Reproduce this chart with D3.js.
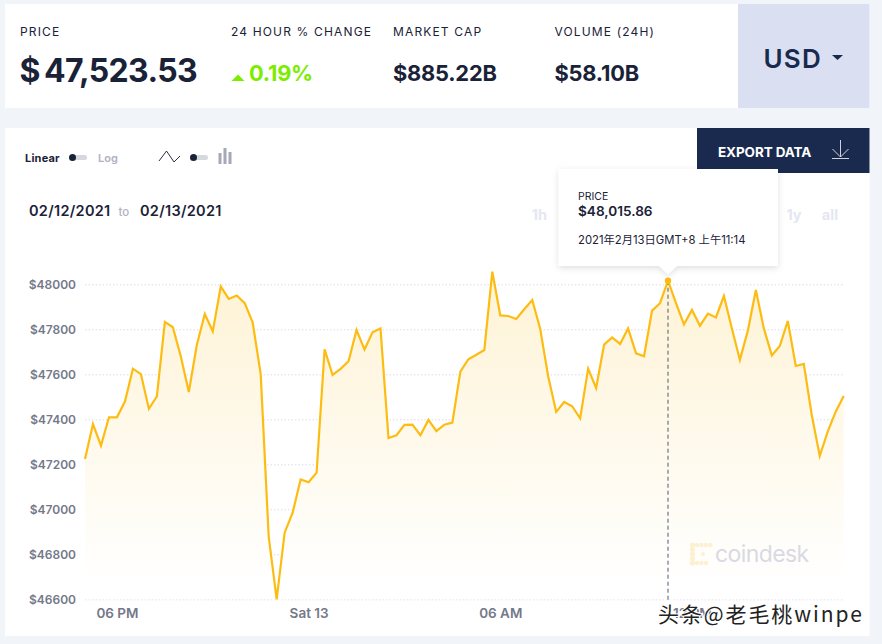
<!DOCTYPE html>
<html>
<head>
<meta charset="utf-8">
<script src="https://cdn.jsdelivr.net/npm/d3@7"></script>
<style>
  html, body { margin: 0; padding: 0; background: #f1f4f9; }
  svg { display: block; font-family: Inter, "Noto Sans", sans-serif; }
  .axis path { display: none; }
  .grid line { stroke: #dcdcec; stroke-dasharray: 1.5 2; }
  .axis text { fill: #747889; font-size: 12px; font-weight: 600; font-family: Inter, sans-serif; }
</style>
</head>
<body>
<svg id="chart" width="882" height="644"></svg>
<script>
const prices = [
  47224, 47379, 47283, 47409, 47409, 47479, 47625, 47601, 47447, 47502, 47833, 47809,
  47679, 47521, 47730, 47868, 47791, 47990, 47935, 47950, 47916, 47830, 47601, 46879,
  46600, 46896, 46985, 47133, 47120, 47163, 47711, 47597, 47624, 47658, 47797, 47710,
  47787, 47804, 47317, 47329, 47375, 47376, 47329, 47397, 47347, 47376, 47385, 47612,
  47667, 47687, 47708, 48056, 47862, 47859, 47846, 47889, 47930, 47801, 47590, 47433,
  47477, 47458, 47404, 47625, 47539, 47732, 47764, 47735, 47804, 47693, 47680, 47883,
  47916, 48015.86, 47916, 47822, 47886, 47816, 47870, 47853, 47948, 47804, 47664, 47794,
  47975, 47804, 47684, 47726, 47837, 47637, 47646, 47419, 47237, 47345, 47434, 47504
];
const startTime = Date.UTC(2021, 1, 12, 17, 0);
const stepMs = 15 * 60 * 1000;
const times = prices.map((_, i) => new Date(startTime + i * stepMs));

const yTicks = [46600, 46800, 47000, 47200, 47400, 47600, 47800, 48000];
const xTicks = [
  new Date(Date.UTC(2021, 1, 12, 18)),
  new Date(Date.UTC(2021, 1, 13, 0)),
  new Date(Date.UTC(2021, 1, 13, 6)),
  new Date(Date.UTC(2021, 1, 13, 12))
];
const xTickLabels = ["06 PM", "Sat 13", "06 AM", "12 PM"];
const hoverIndex = 73;

const stats = [
  { label: "24 HOUR % CHANGE", x: 231 },
  { label: "MARKET CAP", value: "$885.22B", x: 393 },
  { label: "VOLUME (24H)", value: "$58.10B", x: 554.5 }
];
const ranges = [{ t: "1h", x: 539.5 }, { t: "1y", x: 794 }, { t: "all", x: 830 }];

const navy = "#1a2238";
const svg = d3.select("#chart");

function txt(parent, x, y, s, size, weight, fill, extra) {
  const t = parent.append("text").attr("x", x).attr("y", y).text(s)
    .attr("font-size", size).attr("font-weight", weight).attr("fill", fill);
  if (extra) Object.entries(extra).forEach(([k, v]) => t.attr(k, v));
  return t;
}

// top card
svg.append("rect").attr("x", 5).attr("y", 4).attr("width", 864.5).attr("height", 104).attr("fill", "#fff");
svg.append("rect").attr("x", 738).attr("y", 4).attr("width", 131.5).attr("height", 104).attr("fill", "#dae0f2");
txt(svg, 20, 36, "PRICE", 12, 400, navy, { "letter-spacing": 1.15 });
txt(svg, 19.5, 82, "$", 32, 700, navy);
txt(svg, 44, 82, "47,523.53", 32, 700, navy, { "letter-spacing": -0.65 });
stats.forEach(d => {
  txt(svg, d.x, 36, d.label, 12, 400, navy, { "letter-spacing": 1.15 });
  if (d.value) txt(svg, d.x, 81, d.value, 21.8, 700, navy, { "letter-spacing": -0.2 });
});
svg.append("path").attr("d", "M231.5 81 L238 74.5 L244.5 81 Z").attr("fill", "#7ced00");
txt(svg, 249, 81, "0.19%", 21.8, 700, "#7ced00", { "letter-spacing": -0.2 });
txt(svg, 763.5, 68, "USD", 26, 600, "#1a2a4e", { "letter-spacing": 1.2 });
svg.append("path").attr("d", "M832 55 L843 55 L837.5 60 Z").attr("fill", "#1a2a4e");

// chart card
svg.append("rect").attr("x", 5).attr("y", 128).attr("width", 864.5).attr("height", 508).attr("fill", "#fff");
svg.append("rect").attr("x", 697).attr("y", 128).attr("width", 172.5).attr("height", 45).attr("fill", "#1a2a4e");
txt(svg, 718, 157, "EXPORT DATA", 13.5, 700, "#fff", { "letter-spacing": -0.1 });
svg.append("path")
  .attr("d", "M840.5 140 V157 M832.5 149 L840.5 157 L848.5 149 M832 158.5 H849")
  .attr("fill", "none").attr("stroke", "#cfd3de").attr("stroke-width", 1);

// scale toggles
txt(svg, 25, 162, "Linear", 11, 700, navy, { "letter-spacing": 0.2 });
txt(svg, 98, 162, "Log", 11, 600, "#b0b3bf");
[69, 190].forEach(x => {
  svg.append("rect").attr("x", x).attr("y", 155).attr("width", 18).attr("height", 5).attr("rx", 2.5).attr("fill", "#d6d8e0");
  svg.append("circle").attr("cx", x + 3.5).attr("cy", 157.5).attr("r", 3.5).attr("fill", navy);
});
svg.append("path").attr("d", "M159 161 L166.5 151 L174 162 L180 156").attr("fill", "none").attr("stroke", "#2a3042");
[[218.5, 153, 11], [223.5, 148, 16], [228.5, 152, 12]].forEach(b => {
  svg.append("rect").attr("x", b[0]).attr("y", b[1]).attr("width", 3).attr("height", b[2]).attr("fill", "#a5a8b6");
});

// date range
txt(svg, 29, 216, "02/12/2021", 14.5, 600, navy, { "letter-spacing": 0.3 });
txt(svg, 118.5, 216, "to", 11.5, 500, "#b0b3bf");
txt(svg, 140, 216, "02/13/2021", 14.5, 600, navy, { "letter-spacing": 0.3 });
ranges.forEach(r => txt(svg, r.x, 220, r.t, 14.5, 700, "#e4e7f1", { "text-anchor": "middle" }));

// scales
const x = d3.scaleUtc().domain([times[0], times[times.length - 1]]).range([85, 843.7]);
const y = d3.scaleLinear().domain([46600, 48000]).range([599.3, 284.3]);

const defs = svg.append("defs");
const grad = defs.append("linearGradient").attr("id", "fade")
  .attr("gradientUnits", "userSpaceOnUse").attr("x1", 0).attr("x2", 0).attr("y1", 280).attr("y2", 585);
grad.append("stop").attr("offset", 0).attr("stop-color", "#fef3d6");
grad.append("stop").attr("offset", 1).attr("stop-color", "#ffffff");

// grid + y axis
svg.append("g").attr("class", "axis grid").attr("transform", "translate(85,0)")
  .call(d3.axisLeft(y).tickValues(yTicks).tickSize(-759).tickPadding(9).tickFormat(d => "$" + d));

// area + line
const area = d3.area().x((d, i) => x(times[i])).y0(y(46600)).y1(d => y(d));
const line = d3.line().x((d, i) => x(times[i])).y(d => y(d));
svg.append("path").datum(prices).attr("d", area).attr("fill", "url(#fade)");
svg.append("path").datum(prices).attr("d", line).attr("fill", "none")
  .attr("stroke", "#fdbc11").attr("stroke-width", 2.2).attr("stroke-linejoin", "miter");

// x axis
svg.append("g").attr("class", "axis").attr("transform", "translate(0,599.3)")
  .call(d3.axisBottom(x).tickValues(xTicks).tickSize(0).tickPadding(9)
    .tickFormat((d, i) => xTickLabels[i]))
  .call(g => g.selectAll("text").style("font-size", "13.5px"));

// hover marker
const hx = x(times[hoverIndex]), hy = y(prices[hoverIndex]);
svg.append("line").attr("x1", hx).attr("x2", hx).attr("y1", hy).attr("y2", 601)
  .attr("stroke", "#4f586d").attr("stroke-width", 1).attr("stroke-dasharray", "4 3");
svg.append("circle").attr("cx", hx).attr("cy", hy).attr("r", 3.2).attr("fill", "#fdbc11");

// tooltip
const shadow = defs.append("filter").attr("id", "shadow").attr("x", "-10%").attr("y", "-10%").attr("width", "120%").attr("height", "125%");
shadow.append("feDropShadow").attr("dx", 0).attr("dy", 2).attr("stdDeviation", 3).attr("flood-color", "#000").attr("flood-opacity", 0.13);
svg.append("path").attr("filter", "url(#shadow)").attr("fill", "#fff")
  .attr("d", `M558.7 169 H778 V266 H${hx + 9} L${hx} 274 L${hx - 9} 266 H558.7 Z`);
txt(svg, 578, 200, "PRICE", 10.5, 400, navy);
txt(svg, 578, 216, "$48,015.86", 13.6, 600, navy);
txt(svg, 578, 244, "2021年2月13日GMT+8 上午11:14", 11.3, 400, navy, { "font-family": "Inter, 'Noto Sans CJK SC', sans-serif" });

// coindesk watermark
const logo = svg.append("g").attr("fill", "#fdf0d0");
d3.range(5).forEach(i => {
  logo.append("circle").attr("cx", 692.5).attr("cy", 545 + i * 4.5).attr("r", 2.6);
  if (i < 4) {
    logo.append("circle").attr("cx", 692.5 + i * 4.5 + 4.5).attr("cy", 545).attr("r", 2.2);
    logo.append("circle").attr("cx", 692.5 + i * 4.5 + 4.5).attr("cy", 563).attr("r", i === 3 ? 0 : 2.2);
  }
});
logo.append("circle").attr("cx", 703).attr("cy", 554).attr("r", 2);
txt(svg, 715, 562, "coindesk", 23, 400, "#d8dae3", { "letter-spacing": -0.6 });

// site watermark
txt(svg, 658, 622, "头条@老毛桃winpe", 21, 400, "#222", {
  "font-family": "'Noto Sans CJK SC', sans-serif", "letter-spacing": 1.9,
  stroke: "#fff", "stroke-width": 2, "paint-order": "stroke"
});
</script>
</body>
</html>
